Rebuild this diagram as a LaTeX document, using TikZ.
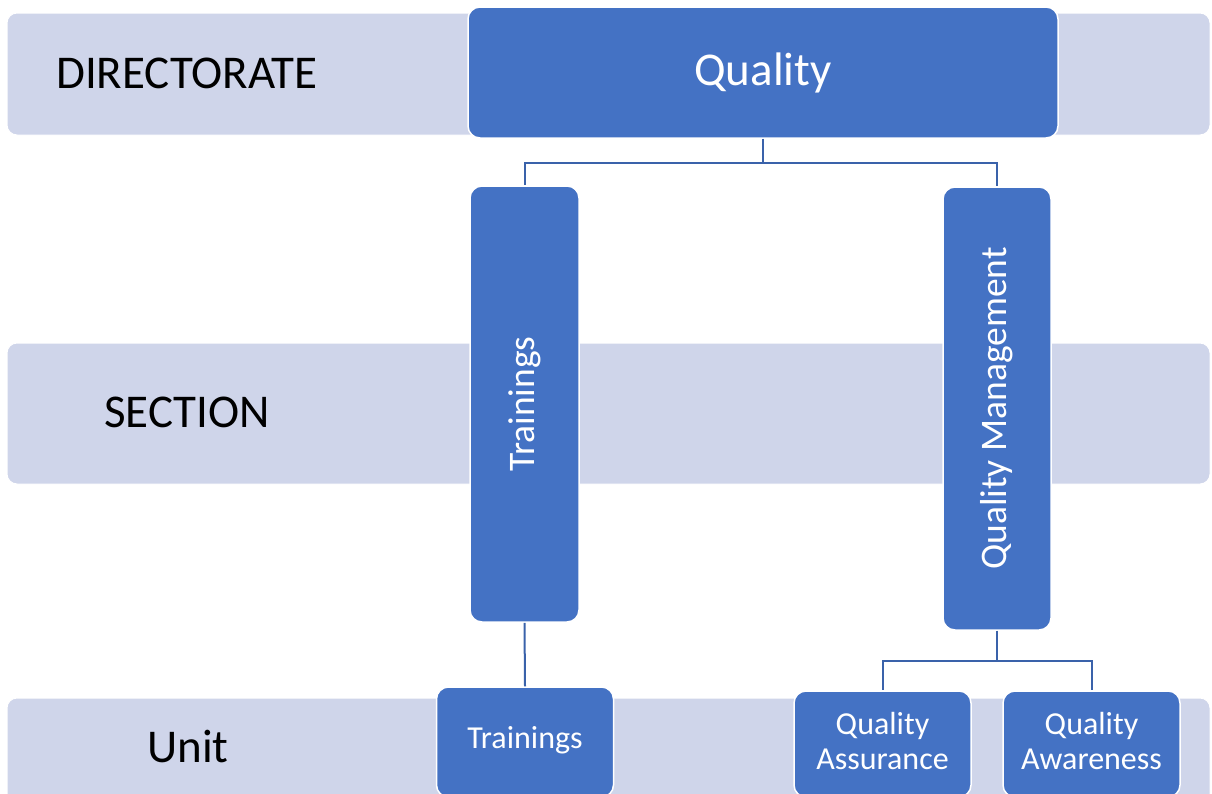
\documentclass[tikz,border=0pt]{standalone}
\usepackage{fontspec}
\setmainfont{Carlito}
\definecolor{bandfill}{HTML}{CFD5EA}
\definecolor{boxfill}{HTML}{4472C4}
\definecolor{linecol}{HTML}{3A62AA}
\tikzset{
  band/.style={draw=white, line width=1pt, fill=bandfill, rounded corners=10pt},
  obox/.style={draw=white, line width=1.5pt, fill=boxfill, rounded corners=12pt, rectangle, inner sep=0pt},
  bandtxt/.style={text=black, font=\fontsize{47}{56}\selectfont, inner sep=0pt},
  boxtxt/.style={text=white, inner sep=0pt, align=center},
  conn/.style={draw=linecol, line width=2pt},
}
\begin{document}
\begin{tikzpicture}[x=1pt, y=-1pt]
\useasboundingbox (0,0) rectangle (1212,793);
\clip (0,0) rectangle (1212,793);
% bands
\path[band] (7,13) rectangle (1210,135);
\path[band] (7,343) rectangle (1210,484);
\path[band] (7,698) rectangle (1210,810);
\node[bandtxt] (dir) at (187,73) {DIRECTORATE};
\node[bandtxt] (sec) at (187,412) {SECTION};
\node[bandtxt] (unit) at (188,746) {Unit};
% boxes
\node[obox, minimum width=590pt, minimum height=131pt] (Q) at (763,72.5) {};
\node[boxtxt, font=\fontsize{47}{56}\selectfont] (Qt) at (763,73) {Quality};
\node[obox, minimum width=109pt, minimum height=436pt] (TrS) at (524.5,404) {};
\node[boxtxt, rotate=90, font=\fontsize{37.5}{44}\selectfont] (TrSt) at (524.5,404) {Trainings};
\node[obox, minimum width=108pt, minimum height=443pt] (QM) at (997,408.5) {};
\node[boxtxt, rotate=90, font=\fontsize{37.5}{44}\selectfont] (QMt) at (997,408.5) {Quality Management};
\node[obox, minimum width=177pt, minimum height=110pt] (TrU) at (525,742) {};
\node[boxtxt, font=\fontsize{32}{35}\selectfont] (TrUt) at (525,740) {Trainings};
\node[obox, minimum width=177pt, minimum height=106pt] (QA) at (882.5,744) {};
\node[boxtxt, font=\fontsize{32}{35}\selectfont] (QAt) at (882.5,741) {Quality\\Assurance};
\node[obox, minimum width=177pt, minimum height=106pt] (QW) at (1091.5,744) {};
\node[boxtxt, font=\fontsize{32}{35}\selectfont] (QWt) at (1091.5,741) {Quality\\Awareness};
% connectors
\draw[conn] (Q.south) -- ++(0,24) -| (TrS.north);
\draw[conn] (Q.south) -- ++(0,24) -| (QM.north);
\draw[conn] (TrS.south) -- (TrU.north);
\draw[conn] (QM.south) -- ++(0,30) -| (QA.north);
\draw[conn] (QM.south) -- ++(0,30) -| (QW.north);
\end{tikzpicture}
\end{document}
